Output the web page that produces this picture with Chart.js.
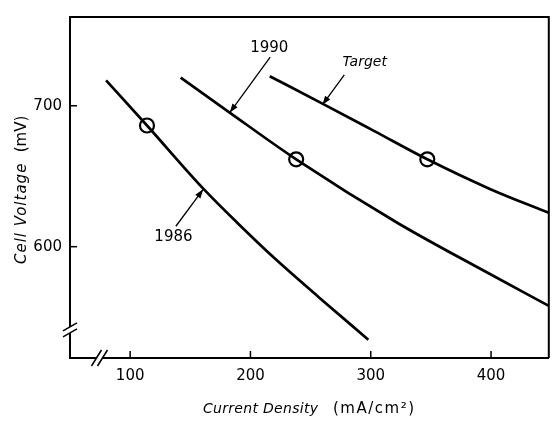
<!DOCTYPE html>
<html>
<head>
<meta charset="utf-8">
<script src="https://cdn.jsdelivr.net/npm/chart.js@4.4.0/dist/chart.umd.min.js"></script>
<style>
  html, body { margin: 0; padding: 0; background: #fff; }
  #chart { display: block; }
</style>
</head>
<body>
<canvas id="chart" width="558" height="422"></canvas>
<script>
// values (current density mA/cm2, cell voltage mV)
const xTicks = [100, 200, 300, 400]
const yTicks = [600, 700]

const curve1986X = [80, 114, 161, 189, 221, 257, 298]
const curve1986Y = [718, 686, 641, 617, 591, 564, 534]

const curve1990X = [142, 183, 238, 322, 396, 448]
const curve1990Y = [720, 695, 662, 617, 582, 558]

const targetX = [216, 261, 303, 347, 399, 448]
const targetY = [721, 701, 682, 662, 641, 624]

const circleX = [114, 238, 347]
const circleY = [686, 662, 662]

const curveNames = ['1986', '1990', 'Target']

const toPoints = (xs, ys) => xs.map((x, i) => ({ x: x, y: ys[i] }))

// callouts, in data units
const callouts = [
    { text: curveNames[0], italic: false, at: [136, 607], from: [138, 614.5], to: [160.7, 640.7] },
    { text: curveNames[1], italic: false, at: [215.6, 741], from: [216.4, 734.5], to: [182.8, 695.2] },
    { text: curveNames[2], italic: true, at: [295, 731], from: [278, 722], to: [259.8, 700.7] }
]
const yBreakAt = 541
const xBreakAt = 74.5

function line(ctx, x1, y1, x2, y2) {
    ctx.beginPath()
    ctx.moveTo(x1, y1)
    ctx.lineTo(x2, y2)
    ctx.stroke()
}

function arrow(ctx, x1, y1, x2, y2) {
    line(ctx, x1, y1, x2, y2)
    const a = Math.atan2(y2 - y1, x2 - x1)
    const len = 9, half = 3.2
    ctx.beginPath()
    ctx.moveTo(x2, y2)
    ctx.lineTo(x2 - len * Math.cos(a) + half * Math.sin(a), y2 - len * Math.sin(a) - half * Math.cos(a))
    ctx.lineTo(x2 - len * Math.cos(a) - half * Math.sin(a), y2 - len * Math.sin(a) + half * Math.cos(a))
    ctx.closePath()
    ctx.fill()
}

function text(ctx, str, font, spacing, x, align) {
    ctx.font = font
    ctx.letterSpacing = spacing + 'px'
    ctx.textAlign = align
    ctx.textBaseline = 'middle'
    ctx.fillText(str, x, 0)
    ctx.letterSpacing = '0px'
}

const decor = {
    id: 'decor',
    afterDraw(chart) {
        const ctx = chart.ctx
        const area = chart.chartArea
        const xs = chart.scales.x
        const ys = chart.scales.y
        ctx.save()
        ctx.strokeStyle = '#000'
        ctx.fillStyle = '#000'

        // frame top and right
        ctx.lineWidth = 2
        ctx.beginPath()
        ctx.moveTo(area.left - 1, area.top)
        ctx.lineTo(area.right, area.top)
        ctx.lineTo(area.right, area.bottom)
        ctx.stroke()

        // inward ticks
        ctx.lineWidth = 1.5
        xTicks.forEach(v => {
            const px = xs.getPixelForValue(v)
            line(ctx, px, area.bottom, px, area.bottom - 7)
        })
        yTicks.forEach(v => {
            const py = ys.getPixelForValue(v)
            line(ctx, area.left, py, area.left + 7, py)
        })

        // axis breaks
        const by = ys.getPixelForValue(yBreakAt)
        ctx.fillStyle = '#fff'
        ctx.beginPath()
        ctx.moveTo(area.left - 7, by + 1)
        ctx.lineTo(area.left + 7, by - 7)
        ctx.lineTo(area.left + 7, by - 1)
        ctx.lineTo(area.left - 7, by + 7)
        ctx.closePath()
        ctx.fill()
        ctx.lineWidth = 1.5
        line(ctx, area.left - 7, by + 1, area.left + 7, by - 7)
        line(ctx, area.left - 7, by + 7, area.left + 7, by - 1)

        const bx = xs.getPixelForValue(xBreakAt)
        ctx.beginPath()
        ctx.moveTo(bx - 8, area.bottom + 8)
        ctx.lineTo(bx + 2, area.bottom - 8)
        ctx.lineTo(bx + 8, area.bottom - 8)
        ctx.lineTo(bx - 2, area.bottom + 8)
        ctx.closePath()
        ctx.fill()
        line(ctx, bx - 8, area.bottom + 8, bx + 2, area.bottom - 8)
        line(ctx, bx - 2, area.bottom + 8, bx + 8, area.bottom - 8)

        // callouts
        ctx.fillStyle = '#000'
        ctx.lineWidth = 1.3
        callouts.forEach(c => {
            arrow(ctx, xs.getPixelForValue(c.from[0]), ys.getPixelForValue(c.from[1]),
                xs.getPixelForValue(c.to[0]), ys.getPixelForValue(c.to[1]))
            ctx.font = c.italic ? 'italic 14px "DejaVu Sans"' : '15px "DejaVu Sans"'
            ctx.textAlign = 'center'
            ctx.textBaseline = 'middle'
            ctx.fillText(c.text, xs.getPixelForValue(c.at[0]), ys.getPixelForValue(c.at[1]))
        })

        // axis titles
        ctx.save()
        ctx.translate(0, 409)
        text(ctx, 'Current Density', 'italic 14px "DejaVu Sans"', 0.3, 203, 'left')
        text(ctx, '(mA/cm²)', '15px "DejaVu Sans"', 1.5, 333, 'left')
        ctx.restore()

        ctx.save()
        ctx.translate(22, 0)
        ctx.rotate(-Math.PI / 2)
        text(ctx, 'Cell Voltage', 'italic 15px "DejaVu Sans"', 1, -264, 'left')
        text(ctx, '(mV)', '15px "DejaVu Sans"', 0, -134, 'center')
        ctx.restore()

        ctx.restore()
    }
}

const curveStyle = {
    showLine: true,
    borderColor: '#000',
    borderWidth: 2.7,
    pointRadius: 0,
    cubicInterpolationMode: 'monotone',
    fill: false
}

const ctx = document.getElementById('chart').getContext('2d')
const chart = new Chart(ctx, {
    type: 'scatter',
    data: {
        datasets: [
            { ...curveStyle, label: curveNames[0], data: toPoints(curve1986X, curve1986Y) },
            { ...curveStyle, label: curveNames[1], data: toPoints(curve1990X, curve1990Y) },
            { ...curveStyle, label: curveNames[2], data: toPoints(targetX, targetY) },
            {
                label: 'points',
                data: toPoints(circleX, circleY),
                showLine: false,
                pointRadius: 7,
                pointBackgroundColor: '#fff',
                pointBorderColor: '#000',
                pointBorderWidth: 2.2
            }
        ]
    },
    options: {
        responsive: false,
        animation: false,
        layout: { padding: { top: 8, right: 1, left: 0, bottom: 0 } },
        plugins: {
            legend: { display: false },
            tooltip: { enabled: false }
        },
        scales: {
            x: {
                type: 'linear',
                min: 50,
                max: 448,
                grid: { display: false, drawTicks: false },
                border: { display: true, color: '#000', width: 2 },
                ticks: { color: '#000', padding: 9, font: { family: 'DejaVu Sans', size: 15 } },
                afterBuildTicks: s => { s.ticks = xTicks.map(v => ({ value: v })) },
                afterFit: s => { s.height = 64 }
            },
            y: {
                type: 'linear',
                min: 521,
                max: 763,
                grid: { display: false, drawTicks: false },
                border: { display: true, color: '#000', width: 2 },
                ticks: { color: '#000', padding: 8, font: { family: 'DejaVu Sans', size: 15 } },
                afterBuildTicks: s => { s.ticks = yTicks.map(v => ({ value: v })) },
                afterFit: s => { s.width = 70 }
            }
        }
    },
    plugins: [decor]
})
</script>
</body>
</html>
